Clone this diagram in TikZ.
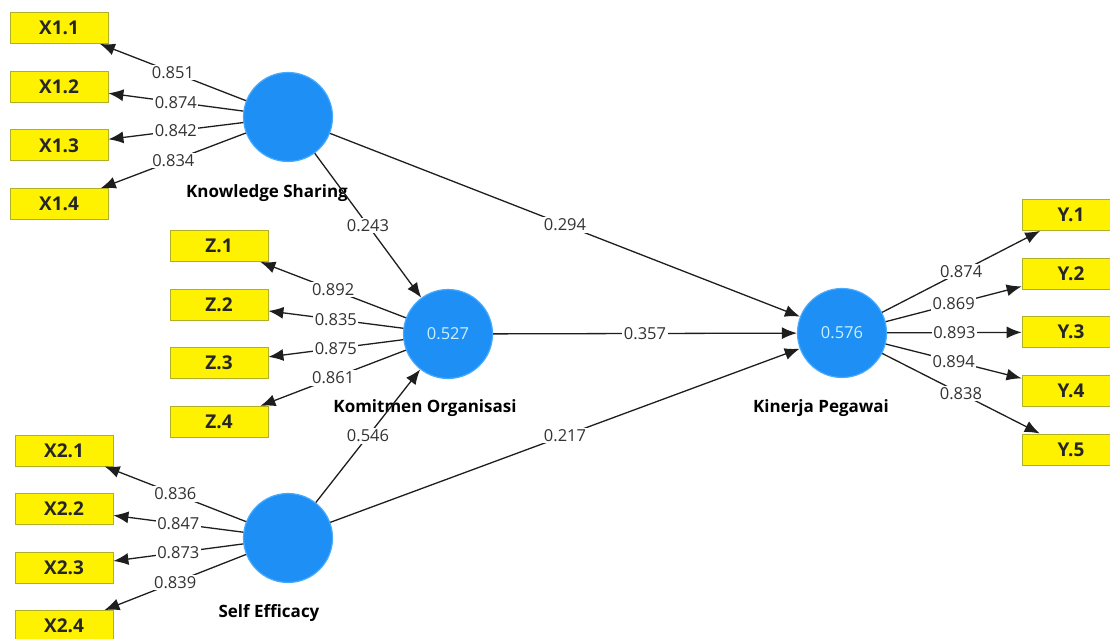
\documentclass[tikz,border=0pt]{standalone}
\usepackage{fontspec}
\setmainfont{Open Sans}
\usetikzlibrary{arrows.meta}
\definecolor{plsblue}{RGB}{30,143,245}
\definecolor{plsrim}{RGB}{70,170,255}
\definecolor{plstext}{RGB}{200,240,255}
\definecolor{boxrim}{RGB}{175,175,40}
\definecolor{inkgray}{RGB}{30,30,30}
\tikzset{
    latent/.style={circle, minimum size=89pt, inner sep=0pt, fill=plsblue,
        draw=plsrim, line width=1.2pt, text=plstext,
        font=\fontsize{16.5}{16.5}\selectfont},
    indicator/.style={rectangle, minimum width=98pt, minimum height=31pt,
        inner sep=0pt, fill=yellow, draw=boxrim, line width=0.8pt,
        text=black!85, font=\bfseries\fontsize{19}{19}\selectfont},
    caption/.style={inner sep=0pt, font=\bfseries\fontsize{17}{17}\selectfont},
    weight/.style={fill=white, inner sep=1.5pt, text=black!80,
        font=\fontsize{16.5}{16.5}\selectfont},
    loading/.style={draw=inkgray, line width=1.3pt,
        -{Latex[length=15pt,width=12pt]}},
}

\begin{document}
\begin{tikzpicture}[x=1pt,y=-1pt]
    \clip (0,0) rectangle (1110,639);
    \fill[white] (0,0) rectangle (1110,639);

    % latent variables
    \node[latent] (ks) at (288,117) {};
    \node[latent] (ko) at (448,334) {0.527};
    \node[latent] (se) at (288,538) {};
    \node[latent] (kp) at (842,333) {0.576};

    \node[caption] (ks-name) at (267,193) {Knowledge Sharing};
    \node[caption] (ko-name) at (425,408) {Komitmen Organisasi};
    \node[caption] (se-name) at (269,613) {Self Efficacy};
    \node[caption] (kp-name) at (821,408) {Kinerja Pegawai};

    % inner model
    \draw[loading] (ks) -- node[weight] {0.243} (ko);
    \draw[loading] (ks) -- node[weight] {0.294} (kp);
    \draw[loading] (ko) -- node[weight] {0.357} (kp);
    \draw[loading] (se) -- node[weight] {0.546} (ko);
    \draw[loading] (se) -- node[weight] {0.217} (kp);

    % outer model, reflective indicators
    \foreach \n/\y/\w in {1/28/0.851, 2/86.7/0.874, 3/145.4/0.842, 4/204.1/0.834} {
        \node[indicator] (xa\n) at (59,\y) {X1.\n};
        \draw[loading] (ks) -- node[weight] {\w} (xa\n);
    }
    \foreach \n/\y/\w in {1/246/0.892, 2/304.6/0.835, 3/363.2/0.875, 4/421.8/0.861} {
        \node[indicator] (z\n) at (219,\y) {Z.\n};
        \draw[loading] (ko) -- node[weight] {\w} (z\n);
    }
    \foreach \n/\y/\w in {1/450.5/0.836, 2/509/0.847, 3/567.5/0.873, 4/626/0.839} {
        \node[indicator] (xb\n) at (64,\y) {X2.\n};
        \draw[loading] (se) -- node[weight] {\w} (xb\n);
    }
    \foreach \n/\y/\w in {1/215/0.874, 2/273.6/0.869, 3/332.2/0.893, 4/390.8/0.894, 5/449.4/0.838} {
        \node[indicator] (y\n) at (1071,\y) {Y.\n};
        \draw[loading] (kp) -- node[weight] {\w} (y\n);
    }
\end{tikzpicture}
\end{document}
